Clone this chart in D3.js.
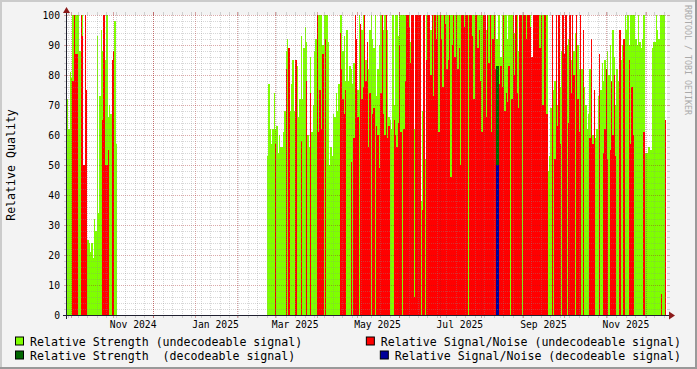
<!DOCTYPE html>
<html>
<head>
<meta charset="utf-8">
<script src="https://d3js.org/d3.v7.min.js"></script>
<style>
  body { margin: 0; background: #f3f3f3; }
  text { font-family: "DejaVu Sans Mono", monospace; }
</style>
</head>
<body>
<div id="chart"></div>
<script>
// ---- data (one value per day) ----
var start2024 = "2024-09-28";
var strength2024 = [72,62,81,79,100,100,100,100,100,88,100,100,50,100,70,25,24,21,24,19,
  32,28,93,34,73,95,88,85,85,100,66,70,67,84,84,98,57];
var snr2024 = [0,0,0,0,78,100,87,87,0,0,100,93,50,100,75,0,0,0,0,0,
  0,0,0,0,0,0,65,100,50,50,55,0,0,85,88,0,0];

var start2025 = "2025-02-23";
var strength2025 = [
  53,77,62,57,62,74,62,63,54,60,   56,56,61,68,88,92,80,68,77,85,
  68,77,83,66,72,93,72,89,96,91,   60,56,86,61,70,88,92,93,100,100,
  100,90,100,100,100,91,50,56,53,67, 66,74,68,77,100,100,88,93,78,95,
  78,83,82,77,84,70,85,75,100,90,  95,100,100,85,70,82,95,100,92,89,
  100,73,82,90,100,82,95,100,77,95, 66,65,62,100,70,100,100,93,100,100,
  100,100,100,80,100,100,91,74,80,62, 65,58,86,76,38,68,85,52,100,90,
  100,95,100,100,100,100,88,100,100,100, 100,100,100,100,100,100,100,100,100,100,
  100,100,100,100,100,100,100,100,100,100, 100,100,100,100,100,100,100,100,100,100,
  100,100,95,100,100,100,100,100,100,100, 92,100,100,86,100,90,100,100,92,100,
  100,100,100,94,100,100,88,100,100,100, 100,100,100,100,100,100,86,100,95,100,
  100,100,100,100,100,93,100,100,48,53, 69,80,75,78,85,70,82,76,88,85,
  83,80,90,92,80,85,100,88,94,84,  90,82,86,82,78,76,70,62,67,82,
  88,60,65,59,62,73,80,75,84,78,   85,70,88,80,90,73,95,86,70,82,
  78,93,85,90,88,100,95,100,90,100, 100,100,100,92,90,100,91,89,92,100,
  54,54,56,56,55,89,91,91,100,95,  92,100,100,100,100,65];
var snr2025 = [
  0,0,0,0,0,0,57,0,0,0,            0,0,0,0,82,0,89,0,0,0,
  0,85,0,0,0,58,0,0,0,78,          0,0,74,0,0,0,0,100,61,75,
  62,87,0,92,0,0,0,0,0,0,          0,0,0,0,94,82,72,67,75,0,
  0,0,51,0,59,100,92,66,0,97,      72,76,100,78,91,56,74,0,67,69,
  0,63,60,49,74,100,67,60,100,59,  63,0,0,0,65,60,56,64,90,61,
  0,62,78,100,100,96,84,100,100,6, 100,100,100,100,0,35,100,0,85,100,
  100,80,100,73,100,92,100,61,100,92, 76,100,97,82,85,100,46,90,100,86,
  100,82,89,50,100,100,96,100,100,0, 100,100,93,72,100,100,89,95,78,61,
  100,100,66,100,84,100,61,92,100,82, 0,0,77,83,76,100,68,74,71,83,
  0,72,100,80,100,74,69,100,100,0, 100,100,92,100,100,96,86,100,100,100,
  100,100,89,100,70,100,100,67,0,0, 0,100,0,52,100,63,100,57,0,100,
  87,100,0,64,100,74,100,80,0,100, 72,61,100,0,95,0,0,0,0,59,
  92,57,75,0,0,0,87,0,0,54,        62,82,52,0,55,78,60,80,53,0,
  0,95,0,0,92,0,0,0,85,57,         76,60,0,0,0,0,0,0,0,61,
  0,0,0,0,0,0,0,0,0,0,             0,0,7,0,0,65];

var decodeDays = ["2025-08-12", "2025-08-13"];
var decodeStrength = [83, 83];
var decodeSnr = [50, 50];

var yTicks = [0,10,20,30,40,50,60,70,80,90,100];
var labelMonths = ["2024-11-01","2025-01-01","2025-03-01","2025-05-01","2025-07-01","2025-09-01","2025-11-01"];

var legendItems = [
  {label: "Relative Strength (undecodeable signal)", color: "#7fff00"},
  {label: "Relative Signal/Noise (undecodeable signal)", color: "#ff0000"},
  {label: "Relative Strength  (decodeable signal)", color: "#006600"},
  {label: "Relative Signal/Noise (decodeable signal)", color: "#000099"}
];

// ---- layout ----
var W = 697, H = 369;
var X0 = 67, X1 = 667, Y0 = 315, Y1 = 15;
var t0 = new Date(Date.UTC(2024, 8, 28));
var t1 = new Date(t0.getTime() + 600 * 64000 * 1000);

var x = d3.scaleUtc().domain([t0, t1]).range([X0, X1]);
var y = d3.scaleLinear().domain([0, 100]).range([Y0, Y1]);

var svg = d3.select("#chart").append("svg")
  .attr("width", W).attr("height", H);

svg.append("rect").attr("width", W).attr("height", H).attr("fill", "#f3f3f3");
// shaded frame
svg.append("path").attr("d", "M0,1H" + W + "M1,0V" + H).attr("stroke", "#cbcbcb").attr("stroke-width", 2);
svg.append("path").attr("d", "M0," + (H - 1) + "H" + W + "M" + (W - 1) + ",0V" + H).attr("stroke", "#999").attr("stroke-width", 2);

// canvas
svg.append("rect").attr("x", X0).attr("y", Y1).attr("width", X1 - X0).attr("height", Y0 - Y1).attr("fill", "#fff");

function toDays(start, g, r) {
  var s = new Date(start + "T00:00:00Z");
  return g.map(function (v, i) { return {t: d3.utcDay.offset(s, i), g: v, r: r[i]}; });
}
var days = toDays(start2024, strength2024, snr2024).concat(toDays(start2025, strength2025, snr2025));
var dec = decodeDays.map(function (d, i) {
  return {t: new Date(d + "T00:00:00Z"), g: decodeStrength[i], r: decodeSnr[i]};
});

function bars(data, key, color) {
  svg.append("g").selectAll("rect")
    .data(data.filter(function (d) { return d[key] != null && d[key] > 0; }))
    .enter().append("rect")
    .attr("x", function (d) { return Math.round(x(d.t)); })
    .attr("width", function (d) { return Math.round(x(d3.utcDay.offset(d.t, 1))) - Math.round(x(d.t)); })
    .attr("y", function (d) { return Math.round(y(d[key])); })
    .attr("height", function (d) { return Y0 - Math.round(y(d[key])); })
    .attr("fill", color)
    .attr("shape-rendering", "crispEdges");
}
bars(days, "g", legendItems[0].color);
bars(days, "r", legendItems[1].color);
bars(dec, "g", legendItems[2].color);
bars(dec, "r", legendItems[3].color);

// ---- grid (drawn over the data like rrdtool) ----
var gridCol = "rgba(140,140,140,0.35)", mgridCol = "rgba(160,30,30,0.38)";
var grid = svg.append("g").attr("shape-rendering", "crispEdges").attr("fill", "none");

d3.range(0, 101, 2).forEach(function (v) {
  var major = v % 10 === 0;
  var yy = Math.round(y(v)) + 0.5;
  var c = major ? mgridCol : gridCol;
  grid.append("line").attr("x1", X0 - 3).attr("x2", X0).attr("y1", yy).attr("y2", yy).attr("stroke", c);
  grid.append("line").attr("x1", X1).attr("x2", X1 + 3).attr("y1", yy).attr("y2", yy).attr("stroke", c);
  if (v > 0) grid.append("line").attr("x1", X0).attr("x2", X1).attr("y1", yy).attr("y2", yy)
    .attr("stroke", c).attr("stroke-dasharray", "1,1");
});

var months = d3.utcMonth.range(t0, t1).map(function (d) { return +d; });
d3.utcSunday.range(t0, t1).concat(d3.utcMonth.range(t0, t1)).forEach(function (t) {
  var major = months.indexOf(+t) >= 0;
  var xx = Math.round(x(t)) + 0.5;
  var c = major ? mgridCol : gridCol;
  grid.append("line").attr("x1", xx).attr("x2", xx).attr("y1", Y0).attr("y2", Y0 + 3).attr("stroke", c);
  grid.append("line").attr("x1", xx).attr("x2", xx).attr("y1", Y1 - 3).attr("y2", Y1).attr("stroke", c);
  grid.append("line").attr("x1", xx).attr("x2", xx).attr("y1", Y1).attr("y2", Y0)
    .attr("stroke", c).attr("stroke-dasharray", "1,1");
});

// ---- axes ----
svg.append("path")
  .attr("d", "M" + (X0 - 4) + "," + (Y0 + 0.5) + "H" + (X1 + 4) + "M" + (X0 - 0.5) + "," + (Y0 + 4) + "V" + (Y1 - 5))
  .attr("stroke", "#202030").attr("fill", "none").attr("shape-rendering", "crispEdges");
svg.append("path")
  .attr("d", "M" + (X1 + 2) + "," + (Y0 - 3.5) + "L" + (X1 + 8) + "," + (Y0 + 0.5) + "L" + (X1 + 2) + "," + (Y0 + 4.5) + "Z")
  .attr("fill", "#8b1a1a");
svg.append("path")
  .attr("d", "M" + (X0 - 4) + "," + (Y1 - 2) + "L" + (X0 - 0.5) + "," + (Y1 - 8) + "L" + (X0 + 3) + "," + (Y1 - 2) + "Z")
  .attr("fill", "#8b1a1a");

svg.append("g").selectAll("text").data(yTicks).enter().append("text")
  .attr("x", 60).attr("y", function (d) { return y(d) + 3.5; })
  .attr("text-anchor", "end").attr("font-size", "9.7px").attr("fill", "#000")
  .text(function (d) { return d; });

var fmt = d3.utcFormat("%b %Y");
svg.append("g").selectAll("text").data(labelMonths).enter().append("text")
  .attr("x", function (d) { return x(d3.utcDay.offset(new Date(d + "T00:00:00Z"), 15)); })
  .attr("y", 328).attr("text-anchor", "middle").attr("font-size", "9.7px").attr("fill", "#000")
  .text(function (d) { return fmt(new Date(d + "T00:00:00Z")); });

svg.append("text")
  .attr("transform", "translate(15," + ((Y0 + Y1) / 2) + ") rotate(-90)")
  .attr("text-anchor", "middle").attr("font-size", "11.6px").attr("fill", "#000")
  .text("Relative Quality");

svg.append("text")
  .attr("transform", "translate(685,5) rotate(90)")
  .attr("font-size", "8.3px").attr("fill", "#aaa")
  .text("RRDTOOL / TOBI OETIKER");

// ---- legend ----
var rows = [345.5, 359.5];
legendItems.forEach(function (it, i) {
  var row = Math.floor(i / 2), right = i % 2 === 1;
  var g = svg.append("g");
  var txt = g.append("text").attr("y", rows[row]).attr("font-size", "11.6px")
    .attr("fill", "#000").style("white-space", "pre").text(it.label);
  var tx = right ? 681 - txt.node().getComputedTextLength() : 30;
  txt.attr("x", tx);
  g.append("rect").attr("x", tx - 14.5).attr("y", rows[row] - 8.5).attr("width", 8).attr("height", 8)
    .attr("fill", it.color).attr("stroke", "#000").attr("stroke-width", 1);
});
</script>
</body>
</html>
